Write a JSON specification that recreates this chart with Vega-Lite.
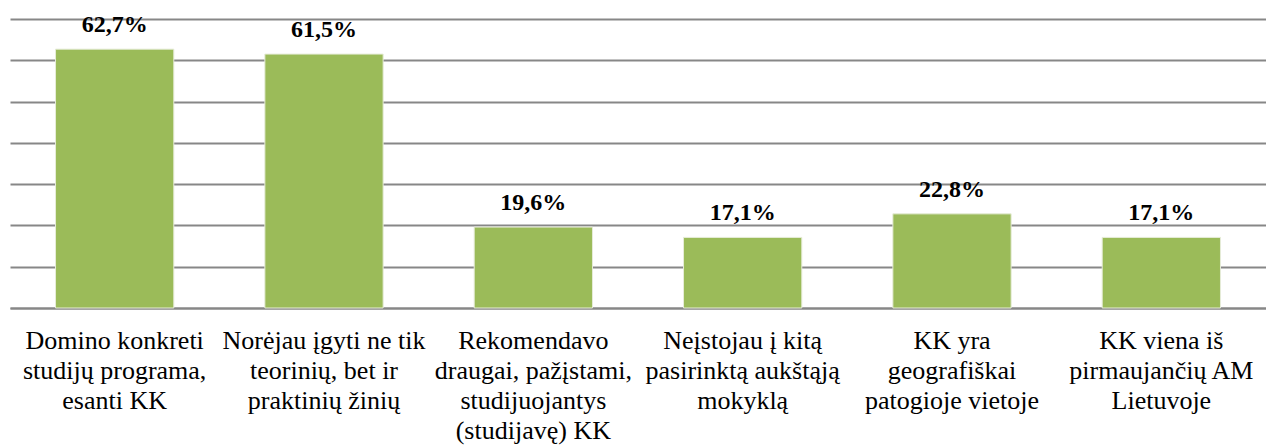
{
  "$schema": "https://vega.github.io/schema/vega-lite/v6.json",
  "autosize": "none",
  "padding": {"left": 10, "top": 19, "right": 0, "bottom": 137},
  "width": 1256,
  "height": 289,
  "background": "white",
  "data": {
    "values": [
      {"reason": "Domino konkreti|studijų programa,|esanti KK", "value": 62.7},
      {"reason": "Norėjau įgyti ne tik|teorinių, bet ir|praktinių žinių", "value": 61.5},
      {"reason": "Rekomendavo|draugai, pažįstami,|studijuojantys|(studijavę) KK", "value": 19.6},
      {"reason": "Neįstojau į kitą|pasirinktą aukštąją|mokyklą", "value": 17.1},
      {"reason": "KK yra|geografiškai|patogioje vietoje", "value": 22.8},
      {"reason": "KK viena iš|pirmaujančių AM|Lietuvoje", "value": 17.1}
    ]
  },
  "transform": [
    {"calculate": "replace(format(datum.value, '.1f'), '.', ',') + '%'", "as": "label"}
  ],
  "encoding": {
    "x": {
      "field": "reason",
      "type": "nominal",
      "sort": null,
      "scale": {"paddingInner": 0.435, "paddingOuter": 0.2175},
      "axis": {
        "title": null,
        "labelAngle": 0,
        "labelExpr": "split(datum.label, '|')",
        "labelFont": "'Liberation Serif', 'Times New Roman', serif",
        "labelFontSize": 26,
        "labelLineHeight": 30,
        "labelColor": "#000000",
        "labelPadding": 19,
        "labelLimit": 300,
        "labelOverlap": false,
        "ticks": false,
        "domain": true,
        "domainColor": "#878787",
        "domainWidth": 2,
        "grid": false
      }
    },
    "y": {
      "field": "value",
      "type": "quantitative",
      "scale": {"domain": [0, 70], "nice": false},
      "axis": {
        "title": null,
        "labels": false,
        "ticks": false,
        "domain": false,
        "grid": true,
        "values": [0, 10, 20, 30, 40, 50, 60, 70],
        "gridColor": "#878787",
        "gridWidth": 2,
        "gridOpacity": 1
      }
    }
  },
  "layer": [
    {
      "mark": {"type": "bar", "color": "#9bbb59", "stroke": "#e6ecd8", "strokeWidth": 1}
    },
    {
      "mark": {
        "type": "text",
        "font": "'Liberation Serif', 'Times New Roman', serif",
        "fontSize": 24,
        "fontWeight": "bold",
        "color": "#000000",
        "baseline": "alphabetic",
        "dy": -17
      },
      "encoding": {"text": {"field": "label"}}
    }
  ],
  "config": {"view": {"stroke": null}}
}
